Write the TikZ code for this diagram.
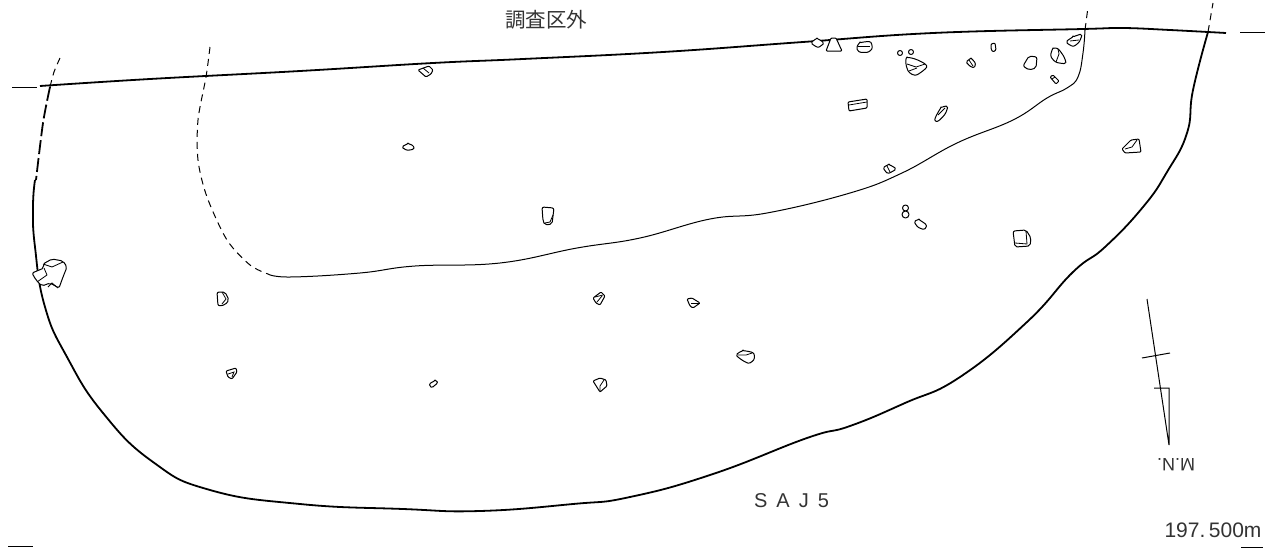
\documentclass[tikz,border=0pt]{standalone}
\usepackage{fontspec}
\setmainfont{Liberation Sans}
\newfontfamily\cjk{Noto Sans CJK JP}
\definecolor{inkgray}{gray}{0.2}
\tikzset{
	edgeline/.style={line width=1.8pt, line join=round},
	innerline/.style={line width=1pt},
	thindash/.style={line width=1pt, dash pattern=on 7pt off 5pt},
	stone/.style={line width=1pt, fill=white, line join=round, rounded corners=1pt},
	detail/.style={line width=0.8pt},
	label/.style={text=inkgray},
}
\begin{document}
\begin{tikzpicture}[x=1pt,y=-1pt]
\useasboundingbox (0,0) rectangle (1272,549);

\node[label, font=\cjk\fontsize{20.5}{20.5}\selectfont] (outside) at (546,20) {調査区外};
\node[label, font=\fontsize{20}{20}\selectfont] (name) at (791.5,501) {S\hspace{9pt}A\hspace{9pt}J\hspace{9pt}5};
\node[label, font=\fontsize{21}{21}\selectfont] (level) at (1213,530) {197.\,500m};
\node[label, font=\fontsize{18}{18}\selectfont, rotate=180] (north) at (1176,465) {M.N.};

% top edge
\draw[edgeline] plot[smooth, tension=0.7] coordinates {(40,86) (150,79) (300,71) (433,63) (523,59) (663,52) (803,42) (933,33) (1083,29) (1123,28) (1170,30) (1226,33)};
\draw[line width=1pt] (12,87) -- (37,87);
\draw[line width=1pt] (1240,32) -- (1265,32);
\draw[line width=1pt] (8,546) -- (33,546);
\draw[line width=1pt] (1241,547) -- (1263,547);

% outer edge
\draw[edgeline] plot[smooth, tension=0.8] coordinates {(35,180) (33,207) (35,247) (45,307) (67,357) (103,413) (153,462) (210,490) (300,504) (403,509) (480,511) (573,504) (630,497) (713,474) (807,438) (850,426) (905,403) (960,377) (1027,322) (1073,272) (1105,247) (1143,207) (1167,172) (1187,133) (1193,90) (1208,32)};
\draw[edgeline, dash pattern=on 14pt off 4pt] plot[smooth] coordinates {(50,87) (43,123) (36,180)};
\draw[thindash] plot[smooth] coordinates {(50,87) (54,72) (60,58)};
\draw[thindash] (1208,32) -- (1213,3);

% inner edge
\draw[thindash] plot[smooth] coordinates {(210,47) (206,77) (198,120) (198,160) (207,197) (227,240) (250,265) (268,274)};
\draw[innerline] plot[smooth, tension=0.7] coordinates {(268,274) (290,277) (360,273) (415,266) (500,263) (577,248) (640,238) (710,219) (767,213) (850,193) (902,173) (957,143) (1013,120) (1047,98) (1067,88) (1078,77) (1083,53) (1085,30)};
\draw[thindash] (1085,30) -- (1088,7);

% north mark
\draw[innerline] (1147,299) -- (1169,445) -- (1169,388) -- (1154,388);
\draw[innerline] (1142,358) -- (1170,353);

% large stone on the edge
\draw[stone, rounded corners=2pt] (32,273) -- (44,268) -- (43,264) -- (52,259) -- (63,261) -- (67,267) -- (63,277) -- (59,288) -- (50,283) -- (42,286) -- (36,280) -- cycle;
\draw[detail] (43,264) -- (52,267) -- (63,262);
\draw[detail] (44,268) -- (47,275) -- (37,282);
\draw[detail] (48,287) -- (52,283) -- (58,288);

% stones
\draw[stone] (418,70) -- (429,66) -- (433,70) -- (431,74) -- (426,77) -- cycle;
\draw[detail] (423,68) -- (429,73);
\draw[stone] plot[smooth cycle] coordinates {(403,147) (408,144) (413,146) (413,149) (407,150)};
\draw[stone, rounded corners=2pt] (542,207) -- (554,208) -- (552,224) -- (545,225) -- (543,221) -- cycle;
\draw[detail] (545,223) -- (550,222) -- (553,215);
\draw[stone, rounded corners=2pt] (217,292) -- (225,292) -- (229,300) -- (225,305) -- (218,306) -- cycle;
\draw[detail] (222,292) -- (226,299) -- (222,304);
\draw[stone] (226,371) -- (236,368) -- (237,372) -- (232,379) -- (228,377) -- cycle;
\draw[detail] (228,374) -- (234,372) -- (232,377);
\draw[stone] plot[smooth cycle] coordinates {(430,384) (435,381) (437,383) (432,387)};
\draw[stone] (593,298) -- (601,292) -- (605,296) -- (600,305) -- (596,303) -- cycle;
\draw[detail] (595,297) -- (603,295);
\draw[detail] (602,296) -- (597,302);
\draw[stone] (687,299) -- (692,298) -- (700,303) -- (693,308) -- (690,306) -- cycle;
\draw[detail] (691,303) -- (700,303);
\draw[stone] (593,381) -- (600,378) -- (606,380) -- (607,386) -- (600,392) -- cycle;
\draw[detail] (604,380) -- (600,386) -- (600,392);
\draw[stone] plot[smooth cycle] coordinates {(737,355) (743,351) (753,353) (754,359) (749,363) (742,360)};
\draw[detail] (738,355) -- (746,355) -- (752,353);
\draw[stone, rounded corners=2pt] (1013,231) -- (1026,230) -- (1031,238) -- (1030,246) -- (1015,247) -- cycle;
\draw[detail] (1015,243) -- (1027,244) -- (1026,231);
\draw[stone] plot[smooth cycle] coordinates {(915,222) (919,220) (926,225) (924,229) (918,227)};
\draw[stone] (905.5,208) circle [radius=3];
\draw[stone] (905.5,214.5) circle [radius=3.5];
\draw[stone] plot[smooth cycle] coordinates {(884,168) (889,165) (895,169) (888,173)};
\draw[detail] (887,166) -- (890,172);
\draw[stone] (848,102) -- (867,99) -- (867,108) -- (849,111) -- cycle;
\draw[detail] (849,105) -- (867,102);
\draw[stone] plot[smooth cycle] coordinates {(935,119) (941,108) (947,107) (945,114) (938,121)};
\draw[detail] (938,115) -- (945,108);
\draw[stone] (1122,149) -- (1131,140) -- (1139,139) -- (1141,152) -- (1125,153) -- cycle;
\draw[detail] (1125,149) -- (1132,147) -- (1137,140);

% stones along the top
\draw[stone] plot[smooth cycle] coordinates {(812,43) (817,39) (823,43) (818,47)};
\draw[stone] (831,38) -- (836,38) -- (842,51) -- (826,51) -- cycle;
\draw[stone] plot[smooth cycle] coordinates {(857,48) (860,43) (870,42) (872,48) (868,52) (860,52)};
\draw[detail] (858,46) -- (870,46);
\draw[stone] (900,53) circle [radius=2.5];
\draw[stone] (911,52) circle [radius=2.5];
\draw[stone] plot[smooth cycle] coordinates {(906,64) (907,58) (915,59) (925,64) (926,68) (916,75) (909,72)};
\draw[detail] (907,64) -- (916,67) -- (925,64);
\draw[detail] (909,71) -- (917,68);
\draw[stone] plot[smooth cycle] coordinates {(967,62) (971,59) (975,63) (974,67) (970,66)};
\draw[detail] (969,60) -- (973,66);
\draw[stone] (991,44) -- (995,43) -- (996,50) -- (993,52) -- (991,49) -- cycle;
\draw[stone, rounded corners=2pt] (1023,66) -- (1029,56) -- (1037,57) -- (1036,68) -- (1029,70) -- cycle;
\draw[stone] plot[smooth cycle] coordinates {(1051,56) (1053,49) (1058,49) (1064,57) (1065,63) (1056,62)};
\draw[detail] (1056,62) -- (1059,54) -- (1058,49);
\draw[stone] plot[smooth cycle] coordinates {(1067,42) (1073,37) (1081,35) (1079,42) (1073,46)};
\draw[detail] (1070,41) -- (1079,40);
\draw[stone] (1050,77) -- (1053,75) -- (1059,81) -- (1056,84) -- cycle;
\draw[detail] (1052,79) -- (1055,77);

\end{tikzpicture}
\end{document}
